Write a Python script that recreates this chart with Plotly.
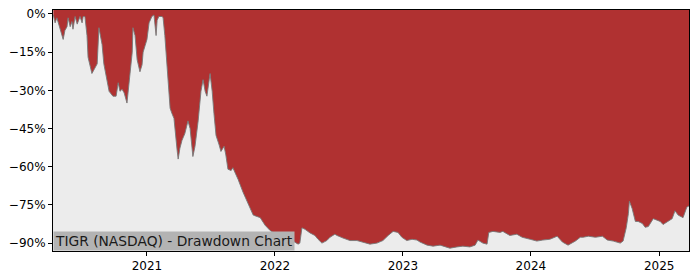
import plotly.graph_objects as go

# Drawdown series (percent)
dates = [
    "2020-04-09", "2020-04-14", "2020-04-19", "2020-04-28", "2020-05-07", "2020-05-12",
    "2020-05-18", "2020-05-21", "2020-05-27", "2020-06-01", "2020-06-04", "2020-06-10",
    "2020-06-16", "2020-06-24", "2020-06-30", "2020-07-03", "2020-07-08", "2020-07-14",
    "2020-07-17", "2020-07-28", "2020-08-06", "2020-08-12", "2020-08-17", "2020-08-26",
    "2020-08-31", "2020-09-09", "2020-09-15", "2020-09-26", "2020-10-05", "2020-10-11",
    "2020-10-16", "2020-10-22", "2020-10-28", "2020-11-05", "2020-11-11", "2020-11-20",
    "2020-11-22", "2020-11-28", "2020-12-04", "2020-12-12", "2020-12-18", "2020-12-21",
    "2020-12-27",
    "2021-01-01", "2021-01-07", "2021-01-15", "2021-01-21", "2021-01-27", "2021-01-30",
    "2021-02-04", "2021-02-13", "2021-02-16", "2021-02-21", "2021-03-02", "2021-03-08",
    "2021-03-13", "2021-03-19", "2021-03-28", "2021-03-31", "2021-04-05", "2021-04-11",
    "2021-04-19", "2021-04-28", "2021-05-04", "2021-05-12", "2021-05-18", "2021-05-27",
    "2021-06-04", "2021-06-10", "2021-06-16", "2021-06-21", "2021-06-30", "2021-07-06",
    "2021-07-11", "2021-07-17", "2021-07-26", "2021-07-31", "2021-08-09", "2021-08-14",
    "2021-08-20", "2021-08-29", "2021-09-03", "2021-09-09", "2021-09-18", "2021-10-02",
    "2021-10-08", "2021-10-22", "2021-10-31", "2021-11-20", "2021-12-04", "2021-12-18",
    "2022-01-07", "2022-01-30", "2022-02-19", "2022-03-08", "2022-03-13", "2022-03-19",
    "2022-03-28", "2022-04-11", "2022-04-25", "2022-05-04", "2022-05-15", "2022-05-29",
    "2022-06-07", "2022-06-21", "2022-06-27", "2022-07-14", "2022-08-03", "2022-08-23",
    "2022-09-09", "2022-09-29", "2022-10-19", "2022-11-05", "2022-11-20", "2022-12-04",
    "2022-12-18", "2022-12-29",
    "2023-01-12", "2023-01-27", "2023-02-10", "2023-02-19", "2023-03-11", "2023-03-28",
    "2023-04-17", "2023-04-30", "2023-05-15", "2023-06-04", "2023-06-21", "2023-07-11",
    "2023-07-26", "2023-08-03", "2023-08-17", "2023-08-29", "2023-09-03", "2023-09-15",
    "2023-10-05", "2023-10-13", "2023-11-02", "2023-11-22", "2023-12-07", "2023-12-30",
    "2024-01-18", "2024-02-04", "2024-02-24", "2024-03-16", "2024-03-31", "2024-04-16",
    "2024-05-07", "2024-05-21", "2024-05-29", "2024-06-13", "2024-07-03", "2024-07-23",
    "2024-08-06", "2024-08-23", "2024-09-12", "2024-09-20", "2024-09-29", "2024-10-05",
    "2024-10-08", "2024-10-16", "2024-10-25", "2024-11-02", "2024-11-14", "2024-11-22",
    "2024-12-01", "2024-12-15", "2024-12-26",
    "2025-01-04", "2025-01-12", "2025-01-27", "2025-02-07", "2025-02-15", "2025-02-24",
    "2025-03-10", "2025-03-21", "2025-03-27",
]
drawdown = [
    -0.4, -3.5, -1.5, -5.4, -10.0, -6.5,
    -5.0, -1.5, -5.0, -3.0, -6.0, -1.0,
    -4.0, -1.0, -3.5, -1.0, -1.0, -8.5,
    -17.0, -23.4, -20.8, -19.6, -5.4, -12.0,
    -19.6, -26.5, -30.4, -32.3, -32.3, -27.0,
    -30.4, -29.6, -31.0, -35.0, -27.7, -15.0,
    -5.4, -8.5, -18.0, -22.7, -20.0, -15.0,
    -12.3,
    -10.0, -3.5, -1.0, -0.4, -8.5, -2.5,
    -1.0, -1.0, -1.5, -8.5, -26.5, -37.0,
    -39.0, -41.0, -53.5, -57.0, -52.7, -49.6,
    -47.0, -42.0, -45.0, -56.0, -52.0, -42.0,
    -30.4, -25.8, -30.4, -32.3, -23.4, -30.4,
    -39.0, -47.7, -51.5, -54.0, -52.0, -55.4,
    -61.0, -61.5, -60.4, -62.0, -65.0, -70.0,
    -72.0, -76.5, -79.0, -80.0, -83.0, -85.0,
    -87.0, -88.0, -89.0, -90.4, -90.0, -84.0,
    -84.6, -86.0, -87.0, -88.5, -90.0, -89.0,
    -87.7, -86.5, -87.0, -88.0, -89.0, -89.0,
    -89.6, -90.4, -90.0, -89.0, -87.0, -85.4,
    -85.8, -87.7,
    -89.0, -88.5, -88.8, -89.6, -90.8, -91.2,
    -90.8, -91.5, -92.0, -91.5, -91.2, -91.5,
    -90.8, -88.8, -90.0, -90.4, -85.8, -85.4,
    -85.8, -85.4, -87.0, -86.5, -87.7, -88.5,
    -89.2, -88.8, -88.5, -87.3, -89.6, -90.8,
    -89.2, -87.7, -87.7, -87.3, -87.7, -87.3,
    -88.8, -89.2, -90.0, -89.2, -84.0, -78.5,
    -73.5, -76.5, -81.5, -81.5, -82.3, -83.8,
    -83.5, -80.4, -81.0,
    -81.5, -82.7, -81.5, -80.4, -77.3, -79.0,
    -80.0, -75.8, -75.4,
]
ceiling = [1.6] * len(dates)

y_tickvals = [0, -15, -30, -45, -60, -75, -90]
y_ticktext = ["0%", "\u221215%", "\u221230%", "\u221245%", "\u221260%", "\u221275%", "\u221290%"]
x_tickvals = ["2021-01-01", "2022-01-01", "2023-01-01", "2024-01-01", "2025-01-01"]
x_ticktext = ["2021", "2022", "2023", "2024", "2025"]
title_text = "TIGR (NASDAQ) - Drawdown Chart"

fig = go.Figure()
fig.add_trace(go.Scatter(x=dates, y=ceiling, mode="lines",
                         line=dict(width=0, color="rgba(0,0,0,0)"),
                         hoverinfo="skip", showlegend=False))
fig.add_trace(go.Scatter(x=dates, y=drawdown, mode="lines",
                         fill="tonexty", fillcolor="#b03131",
                         line=dict(width=1, color="rgba(120,120,120,0.9)"),
                         showlegend=False))

font_family = "DejaVu Sans"
fig.update_layout(
    width=700, height=280,
    margin=dict(l=53, r=11, t=7, b=28),
    paper_bgcolor="white",
    plot_bgcolor="#ececec",
    font=dict(family=font_family, size=12, color="#000000"),
    showlegend=False,
)
fig.update_xaxes(
    range=["2020-04-08", "2025-03-27"],
    tickvals=x_tickvals, ticktext=x_ticktext,
    showgrid=False, zeroline=False,
    showline=True, linecolor="black", linewidth=1, mirror=True,
    ticks="outside", ticklen=4, tickcolor="black",
    tickfont=dict(size=12, family=font_family),
)
fig.update_yaxes(
    range=[-93.1, 1.55],
    tickvals=y_tickvals, ticktext=y_ticktext,
    showgrid=False, zeroline=False,
    showline=True, linecolor="black", linewidth=1, mirror=True,
    ticks="outside", ticklen=4, tickcolor="black",
    tickfont=dict(size=12, family=font_family),
)
fig.add_annotation(
    text=title_text, xref="paper", yref="paper", x=0, y=0,
    xanchor="left", yanchor="bottom", showarrow=False,
    font=dict(size=13.8, family=font_family, color="#1a1a1a"),
    bgcolor="#b3b3b3", borderpad=1,
)

fig.write_html("out.html")
